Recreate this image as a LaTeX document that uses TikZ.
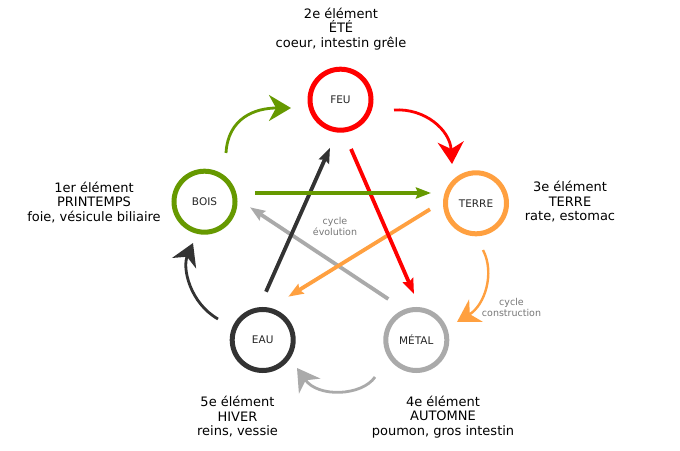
\documentclass[tikz,border=0pt]{standalone}
\usepackage{fontspec}
\setmainfont{DejaVu Sans}
\usetikzlibrary{arrows.meta,calc}
\definecolor{cfeu}{HTML}{FF0000}
\definecolor{cbois}{HTML}{669900}
\definecolor{cterre}{HTML}{FFA040}
\definecolor{ceau}{HTML}{333333}
\definecolor{cmetal}{HTML}{AAAAAA}
\definecolor{cnote}{HTML}{777777}
\begin{document}
\begin{tikzpicture}[x=1pt,y=1pt,
  element/.style={circle,draw,line width=5pt,minimum size=61pt,inner sep=0pt,font=\fontsize{10.5}{12}\selectfont,text=black!85},
  info/.style={align=center,font=\fontsize{13}{14.5}\selectfont,text=black},
  note/.style={align=center,font=\fontsize{9.5}{11.7}\selectfont,text=cnote},
  straight/.style={line width=3.8pt,-{Stealth[length=15pt,width=11pt,inset=2pt]}},
  curved/.style={line width=2.8pt,-{Stealth[length=22pt,width=26pt,inset=7pt]}}
]
\fill[white] (0,0) rectangle (680,450);
\useasboundingbox (0,0) rectangle (680,450);

% elements
\node[element,draw=cfeu]   (feu)   at (340.5,350.3) {FEU};
\node[element,draw=cbois]  (bois)  at (204.5,248.3) {BOIS};
\node[element,draw=cterre] (terre) at (476,246.7)   {TERRE};
\node[element,draw=ceau]   (eau)   at (262.7,110)   {EAU};
\node[element,draw=cmetal] (metal) at (416.3,110)   {MÉTAL};

% labels
\node[info] (ltop)   at (341,421)   {2e élément\\ÉTÉ\\coeur, intestin grêle};
\node[info] (lleft)  at (94,247.5)  {1er élément\\PRINTEMPS\\foie, vésicule biliaire};
\node[info] (lright) at (570,248)   {3e élément\\TERRE\\rate, estomac};
\node[info] (lbl)    at (237.5,33)  {5e élément\\HIVER\\reins, vessie};
\node[info] (lbr)    at (443,33)    {4e élément\\AUTOMNE\\poumon, gros intestin};
\node[note] (nevo)   at (335,223.5) {cycle\\évolution};
\node[note] (ncons)  at (511.5,142.5) {cycle\\construction};

% straight arrows (cycle evolution)
\draw[straight,cmetal] ($(metal)+(-28,41)$) -- ($(bois)+(45.5,-5.6)$);
\draw[straight,cterre] ($(terre)+(-46,-6)$) -- ($(eau)+(25.6,43.3)$);
\draw[straight,cfeu]   ($(feu)+(10.5,-49.3)$) -- ($(metal)+(-2.3,46)$);
\draw[straight,ceau]   ($(eau)+(3.3,48.3)$) -- ($(feu)+(-10.5,-48)$);
\draw[straight,cbois]  ($(bois)+(50.5,8.7)$) -- ($(terre)+(-45,10.3)$);

% curved arrows (cycle construction)
\draw[curved,cbois] ($(bois)+(21.5,48.7)$) .. controls +(2,35) and +(-36,0) .. ($(feu)+(-49.5,-8.3)$);
\draw[curved,cfeu] ($(feu)+(53.5,-10.3)$) .. controls +(31,2) and +(-2,34) .. ($(terre)+(-24,39.3)$);
\draw[curved,cterre,line width=2.4pt] ($(terre)+(7,-46.7)$) .. controls +(12,-23) and +(28,17) .. ($(metal)+(40.7,18)$);
\draw[curved,cmetal] ($(metal)+(-41.3,-37)$) .. controls +(-13,-19) and +(21,-30) .. ($(eau)+(34.3,-28)$);
\draw[curved,ceau] ($(eau)+(-44.7,21)$) .. controls +(-28,16) and +(-11,-25) .. ($(bois)+(-11.5,-41.3)$);
\end{tikzpicture}
\end{document}
